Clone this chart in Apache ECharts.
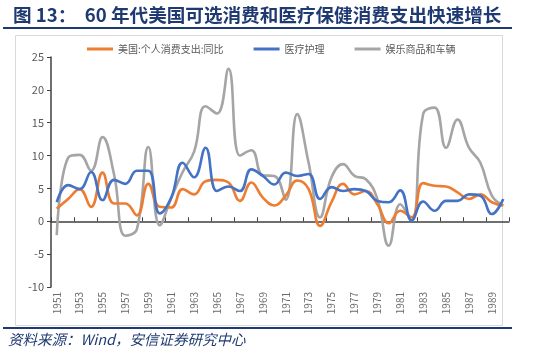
<!DOCTYPE html>
<html>
<head>
<meta charset="utf-8">
<script src="https://cdn.jsdelivr.net/npm/echarts@6/dist/echarts.min.js"></script>
<style>
  html, body { margin: 0; padding: 0; background: #fff; }
  #chart { width: 550px; height: 359px; }
</style>
</head>
<body>
<div id="chart"></div>
<script>
// ---- 数据 ----
var years = [];
for (var y = 1951; y <= 1990; y++) years.push(String(y));

var pceYoY = [1.9, 3.4, 4.9, 2.2, 7.4, 2.7, 2.7, 0.9, 5.7, 2.2,
              2.1, 4.9, 4.1, 6.1, 6.3, 5.9, 3.1, 5.9, 3.6, 2.4,
              3.9, 6.2, 4.9, -0.7, 2.9, 5.7, 4.1, 4.6, 2.6, -0.3,
              1.6, 0.6, 5.8, 5.4, 5.3, 4.4, 3.4, 4.1, 2.9, 2.4];
var medical = [2.9, 5.5, 4.9, 7.5, 3.2, 6.3, 5.7, 7.7, 7.7, 1.2,
               3.6, 8.9, 6.7, 11.2, 4.6, 5.3, 4.6, 7.9, 6.9, 5.6,
               7.4, 6.9, 7.2, 3.4, 5.2, 4.6, 4.9, 4.6, 3.1, 2.9,
               4.7, 0.1, 3.0, 1.6, 3.1, 3.1, 4.1, 3.9, 1.1, 3.4];
var recreation = [-2.1, 9.7, 10.1, 7.7, 12.8, 7.2, -2.2, -1.2, 11.3, -0.6,
                  3.5, 7.5, 10.6, 17.5, 16.4, 23.2, 10.0, 10.8, 7.0, 6.9,
                  3.3, 16.3, 8.9, 0.6, 6.7, 8.7, 6.9, 6.4, 3.4, -3.7,
                  2.6, 0.1, 16.3, 17.3, 11.2, 15.5, 11.2, 8.9, 3.9, 2.4];

var seriesNames = ["美国:个人消费支出:同比", "医疗护理", "娱乐商品和车辆"];
var seriesColors = ["#ED7D31", "#4472C4", "#A5A5A5"];

var NAVY = "#1F3A73";
var GRID = { left: 51, right: 41, top: 57, bottom: 72 };

var chart = echarts.init(document.getElementById("chart"));

function mkLine(i, values) {
  return {
    name: seriesNames[i],
    type: "line",
    data: values,
    smooth: 0.45,
    showSymbol: false,
    xAxisIndex: 0,
    lineStyle: { color: seriesColors[i], width: 2.6 },
    itemStyle: { color: seriesColors[i] },
    z: i === 2 ? 2 : 3
  };
}

chart.setOption({
  animation: false,
  textStyle: { fontFamily: "'Noto Sans CJK SC', 'Noto Sans', sans-serif" },
  title: {
    text: "图 13：  60 年代美国可选消费和医疗保健消费支出快速增长",
    left: 8, top: 1,
    textStyle: { color: NAVY, fontSize: 18.6, fontWeight: "bold",
                 fontFamily: "'Noto Sans CJK SC', sans-serif" }
  },
  legend: {
    left: 82, top: 39,
    itemWidth: 26, itemHeight: 3, itemGap: 30,
    icon: "rect",
    textStyle: { color: "#595959", fontSize: 10 },
    data: seriesNames
  },
  graphic: [
    { type: "rect", shape: { x: 15.5, y: 35.5, width: 487, height: 290 },
      style: { fill: "none", stroke: "#D9D9D9", lineWidth: 1 }, z: -1 },
    { type: "rect", shape: { x: 3, y: 27, width: 509, height: 2 },
      style: { fill: NAVY } },
    { type: "rect", shape: { x: 3, y: 327, width: 509, height: 2 },
      style: { fill: NAVY } },
    { type: "text", left: 8, top: 332,
      style: { text: "资料来源：Wind，安信证券研究中心", fill: NAVY,
               font: "italic 14.5px 'Noto Sans CJK SC', sans-serif" } }
  ],
  grid: GRID,
  xAxis: [{
    type: "category",
    data: years,
    boundaryGap: true,
    position: "bottom",
    axisLine: { show: false, onZero: false },
    axisTick: { show: false },
    axisLabel: { rotate: 90, interval: 1, fontSize: 10, color: "#6B6B6B", margin: 5 }
  }, {
    type: "category",
    data: years,
    boundaryGap: true,
    axisLine: { onZero: true, lineStyle: { color: "#404040", width: 1.5 } },
    axisTick: { show: true, interval: 1, length: 4, lineStyle: { color: "#404040" } },
    axisLabel: { show: false }
  }],
  yAxis: {
    type: "value",
    min: -10, max: 25, interval: 5,
    axisLine: { show: true, lineStyle: { color: "#404040", width: 1.5 } },
    axisTick: { show: true, length: 4, lineStyle: { color: "#404040" } },
    axisLabel: { fontSize: 11, color: "#595959", margin: 7 },
    splitLine: { show: false }
  },
  series: [mkLine(0, pceYoY), mkLine(1, medical), mkLine(2, recreation)]
});
</script>
</body>
</html>
